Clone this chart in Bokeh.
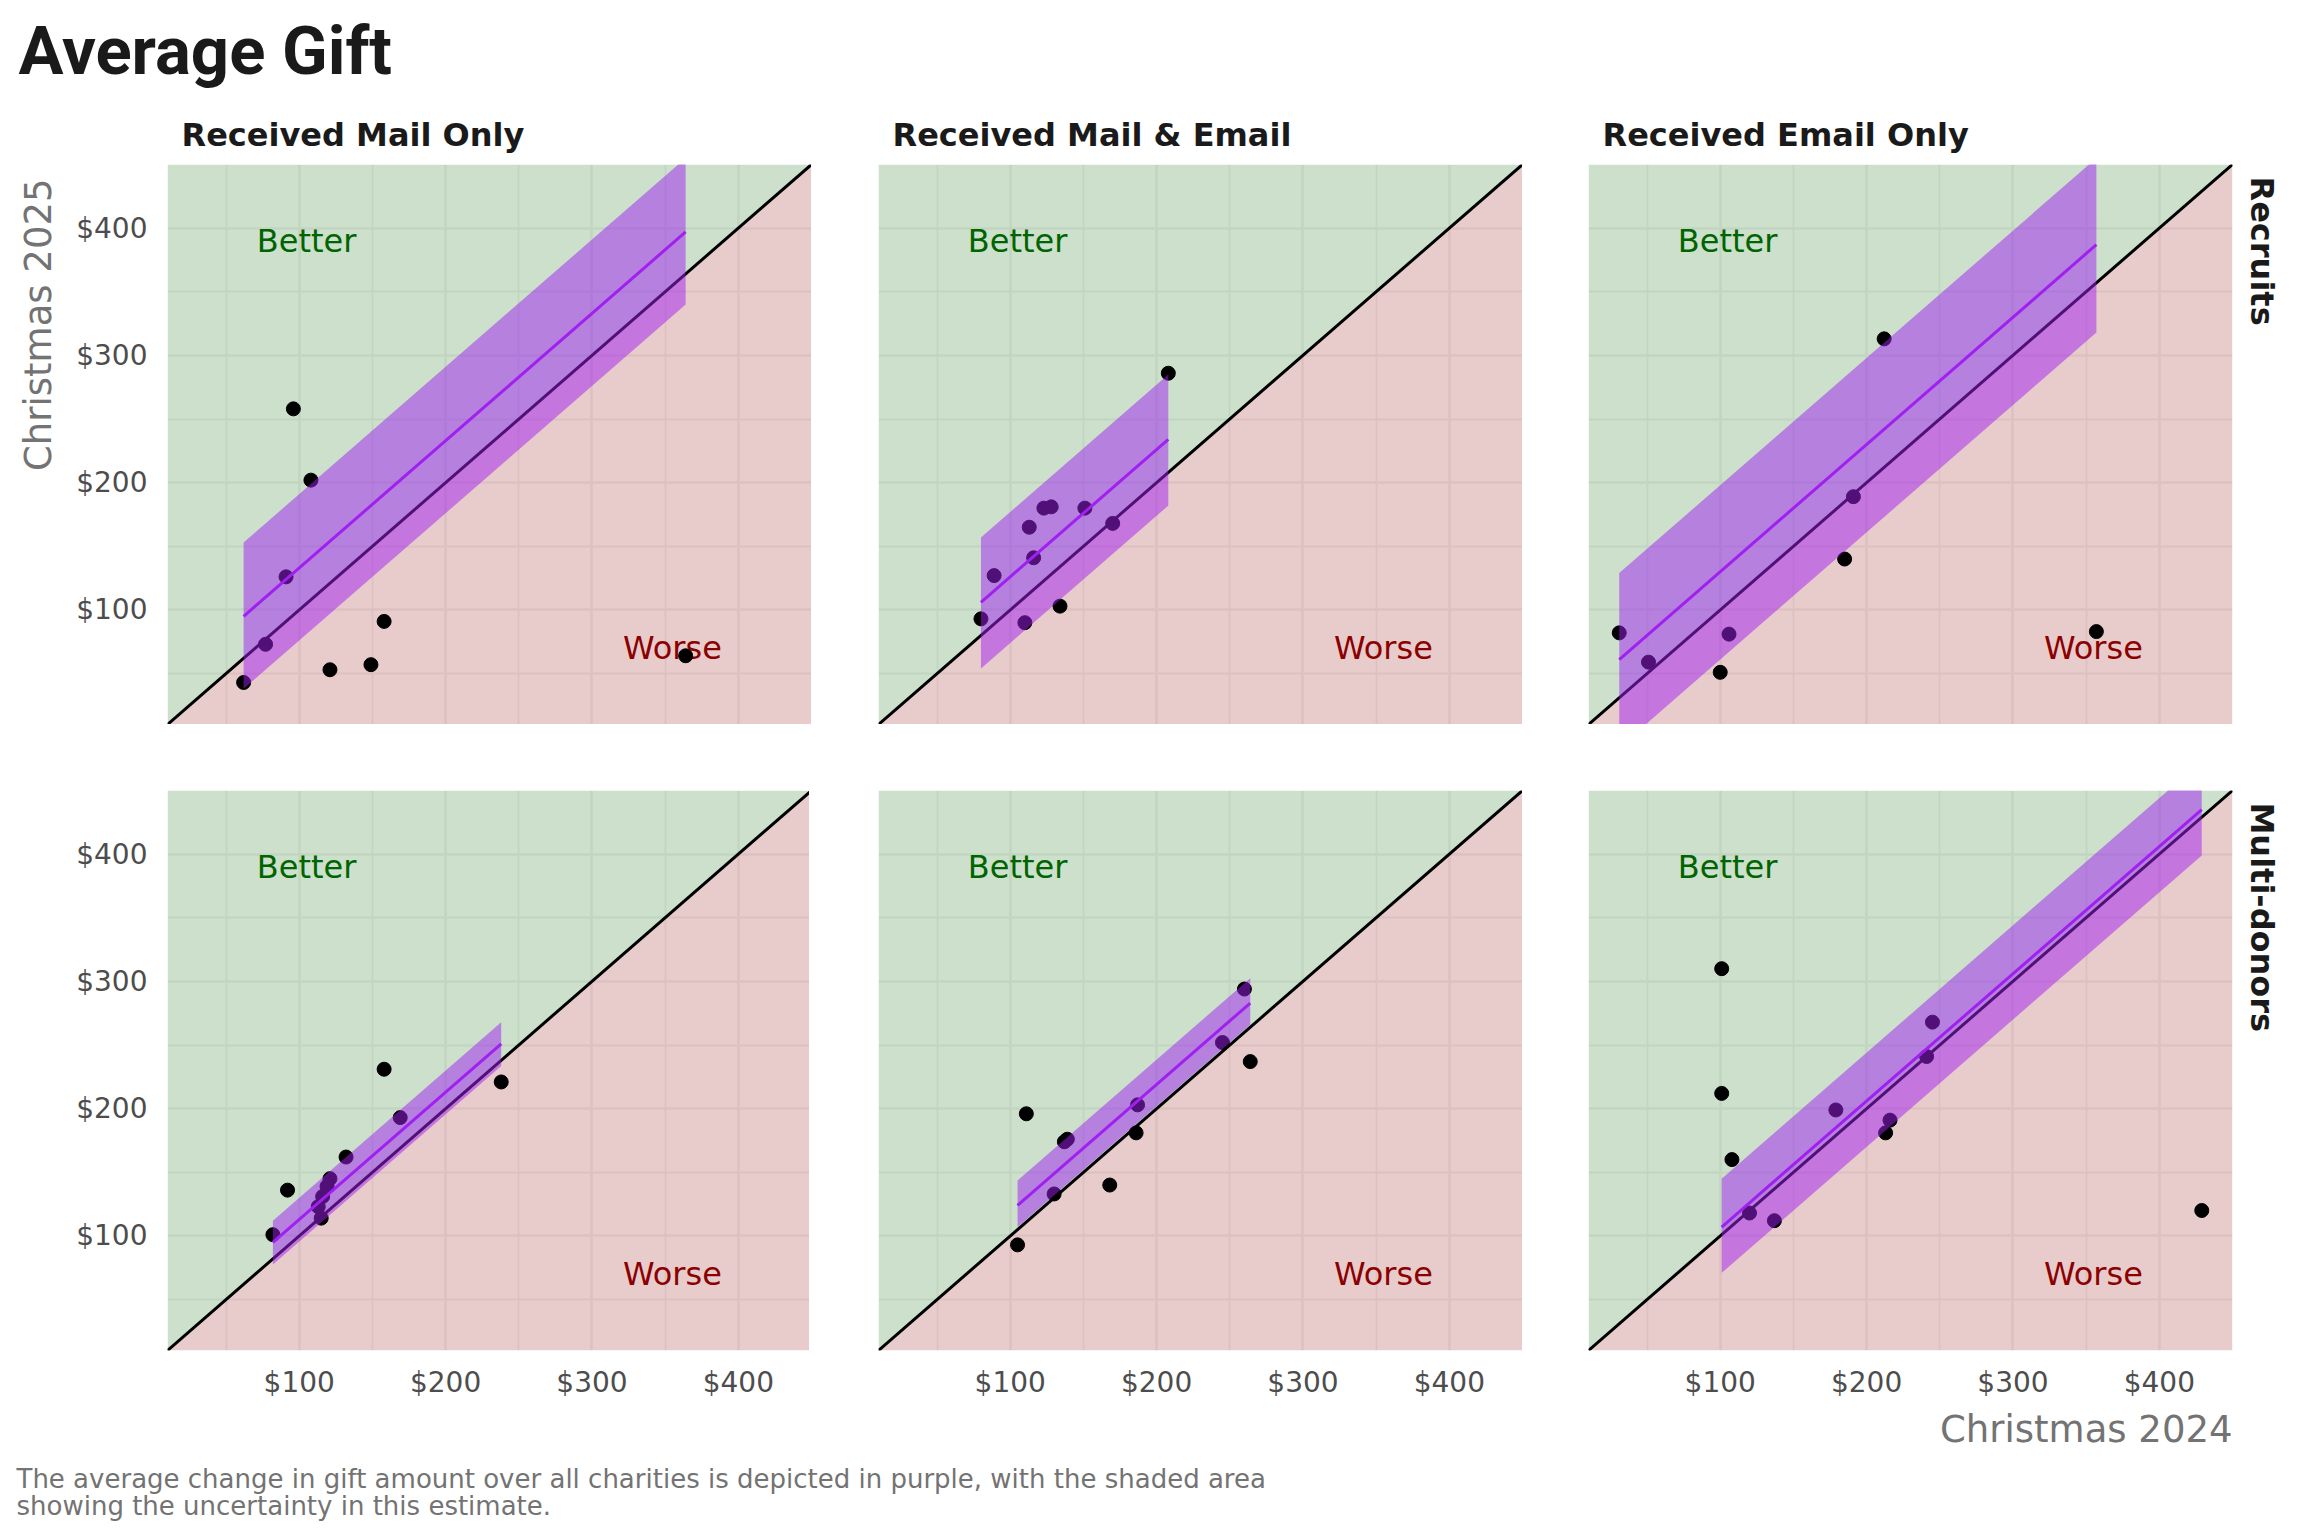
import numpy as np
from bokeh.plotting import figure
from bokeh.layouts import gridplot, column
from bokeh.models import FixedTicker, PrintfTickFormatter, Title, Range1d
from bokeh.embed import file_html
from bokeh.resources import INLINE
from bokeh.core.properties import value

# ---------------- data ----------------
column_labels = ["Received Mail Only", "Received Mail & Email", "Received Email Only"]
row_labels = ["Recruits", "Multi-donors"]
axis_limits = [10, 450]
major_ticks = [100, 200, 300, 400]
minor_ticks = [50, 150, 250, 350, 450]

# Recruits
recruits_mail_only_2024 = [96, 108, 91, 77, 62, 121, 149, 158, 364]
recruits_mail_only_2025 = [258, 202, 126, 73, 43, 53, 57, 91, 64]
recruits_mail_email_2024 = [208, 80, 89, 113, 116, 123, 128, 151, 170, 110, 134]
recruits_mail_email_2025 = [286, 93, 127, 165, 141, 180, 181, 180, 168, 90, 103]
recruits_email_only_2024 = [212, 191, 185, 31, 51, 106, 100, 357]
recruits_email_only_2025 = [313, 189, 140, 82, 59, 81, 51, 83]
# Multi-donors
multi_mail_only_2024 = [82, 92, 115, 113, 116, 119, 121, 132, 158, 169, 238]
multi_mail_only_2025 = [101, 136, 114, 123, 131, 139, 145, 162, 231, 193, 221]
multi_mail_email_2024 = [260, 245, 264, 111, 137, 139, 187, 186, 168, 130, 105]
multi_mail_email_2025 = [294, 252, 237, 196, 174, 176, 203, 181, 140, 133, 93]
multi_email_only_2024 = [101, 101, 108, 120, 137, 179, 216, 213, 241, 245, 429]
multi_email_only_2025 = [310, 212, 160, 118, 112, 199, 191, 181, 241, 268, 120]

# average change (estimate) and its uncertainty interval, per panel
avg_change = [33, 26, 30, 13, 19, 6]
avg_change_low = [-24, -26, -39, -4.5, 2, -30]
avg_change_high = [91, 77, 98, 30, 38.5, 44]

panel_x = [recruits_mail_only_2024, recruits_mail_email_2024, recruits_email_only_2024,
           multi_mail_only_2024, multi_mail_email_2024, multi_email_only_2024]
panel_y = [recruits_mail_only_2025, recruits_mail_email_2025, recruits_email_only_2025,
           multi_mail_only_2025, multi_mail_email_2025, multi_email_only_2025]

better_label = ("Better", 105, 390)
worse_label = ("Worse", 355, 70)

title_text = "Average Gift"
x_title = "Christmas 2024"
y_title = "Christmas 2025"
caption_lines = [
    "The average change in gift amount over all charities is depicted in purple, with the shaded area",
    "showing the uncertainty in this estimate.",
]

# ---------------- styling / layout ----------------
FONT = "DejaVu Sans"
FW, FH = 644, 560
border_left = [165, 67, 66]
border_right = [0, 0, 58]
border_top = [64, 66]
border_bottom = [0, 110]
TOTAL_W = sum(border_left) + sum(border_right) + 3 * FW
TITLE_H = 100
CAPTION_H = 70
AXIS_TITLE_COLOR = "#737373"
TICK_COLOR = "#4d4d4d"
STRIP_COLOR = "#1a1a1a"


def bare_figure(height):
    p = figure(width=TOTAL_W, height=height, x_range=Range1d(0, TOTAL_W),
               y_range=Range1d(height, 0), output_backend="svg", toolbar_location=None,
               min_border=0)
    p.axis.visible = False
    p.grid.visible = False
    p.outline_line_color = None
    p.background_fill_color = "white"
    p.border_fill_color = "white"
    return p


def build(k, r, c):
    xs = np.array(panel_x[k], dtype=float)
    ys = np.array(panel_y[k], dtype=float)
    p = figure(frame_width=FW, frame_height=FH,
               x_range=Range1d(*axis_limits), y_range=Range1d(*axis_limits),
               output_backend="svg", toolbar_location=None,
               min_border_left=border_left[c], min_border_right=border_right[c],
               min_border_top=border_top[r], min_border_bottom=border_bottom[r])
    p.background_fill_color = "white"
    p.border_fill_color = "white"
    p.outline_line_color = None

    ticker = FixedTicker(ticks=major_ticks, minor_ticks=minor_ticks)
    for ax in (p.xaxis[0], p.yaxis[0]):
        ax.ticker = ticker
        ax.formatter = PrintfTickFormatter(format="$%d")
        ax.axis_line_color = None
        ax.major_tick_line_color = None
        ax.minor_tick_line_color = None
        ax.major_label_text_font = FONT
        ax.major_label_text_font_size = "28px"
        ax.major_label_text_color = TICK_COLOR
    p.xaxis.major_label_standoff = 9
    p.yaxis.major_label_standoff = 14
    for g in (p.xgrid[0], p.ygrid[0]):
        g.ticker = ticker
        g.grid_line_color = "#f2f2f2"
        g.grid_line_width = 2.6
        g.minor_grid_line_color = "#f2f2f2"
        g.minor_grid_line_width = 1.8

    if r == 0:
        p.xaxis.visible = False
    if c > 0:
        p.yaxis.visible = False

    lim = np.array(axis_limits, dtype=float)
    top = np.full(2, lim[1])
    bottom = np.full(2, lim[0])
    p.varea(x=lim, y1=lim, y2=top, fill_color="#006400", fill_alpha=0.2)
    p.varea(x=lim, y1=bottom, y2=lim, fill_color="#8b0000", fill_alpha=0.2)
    p.line(lim, lim, line_color="black", line_width=3)

    p.text(x=[better_label[1]], y=[better_label[2]], text=[better_label[0]],
           text_align="center", text_baseline="middle", text_font=value(FONT),
           text_font_size="32px", text_color="#006400")
    p.text(x=[worse_label[1]], y=[worse_label[2]], text=[worse_label[0]],
           text_align="center", text_baseline="middle", text_font=value(FONT),
           text_font_size="32px", text_color="#8b0000")

    p.scatter(xs, ys, size=14, color="black")

    xr = np.array([xs.min(), xs.max()])
    p.varea(x=xr, y1=xr + avg_change_low[k], y2=xr + avg_change_high[k],
            fill_color="#a020f0", fill_alpha=0.5)
    p.line(xr, xr + avg_change[k], line_color="#a020f0", line_width=3)

    if r == 0:
        p.title.text = column_labels[c]
        p.title.align = "left"
        p.title.offset = 14
        p.title.standoff = 22
        p.title.text_font = FONT
        p.title.text_font_size = "32px"
        p.title.text_font_style = "bold"
        p.title.text_color = STRIP_COLOR
    if c == 2:
        p.add_layout(Title(text=row_labels[r], align="left", offset=12, standoff=20,
                           text_font=FONT, text_font_size="32px", text_font_style="bold",
                           text_color=STRIP_COLOR), "right")
    if r == 0 and c == 0:
        p.add_layout(Title(text=y_title, align="right", offset=14, standoff=28,
                           text_font=FONT, text_font_size="37px", text_font_style="normal",
                           text_color=AXIS_TITLE_COLOR), "left")
    if r == 1 and c == 2:
        p.add_layout(Title(text=x_title, align="right", offset=0, standoff=8,
                           text_font=FONT, text_font_size="37px", text_font_style="normal",
                           text_color=AXIS_TITLE_COLOR), "below")
    return p


# main title
title_fig = bare_figure(TITLE_H)
title_fig.text(x=[18], y=[50], text=[title_text], text_baseline="alphabetic",
               text_align="left", text_font=value("Roboto"), text_font_size="67px",
               text_font_style="bold", text_color="#1a1a1a")

figs = [[build(r * 3 + c, r, c) for c in range(3)] for r in range(2)]
grid = gridplot(figs, toolbar_location=None)

# caption
caption_fig = bare_figure(CAPTION_H)
caption_fig.text(x=[16, 16], y=[18, 45], text=caption_lines, text_baseline="alphabetic",
                 text_align="left", text_font=value(FONT), text_font_size="26px",
                 text_color=AXIS_TITLE_COLOR)

layout = column(title_fig, grid, caption_fig)

with open("out.html", "w") as f:
    f.write(file_html(layout, INLINE, title="Average Gift"))
